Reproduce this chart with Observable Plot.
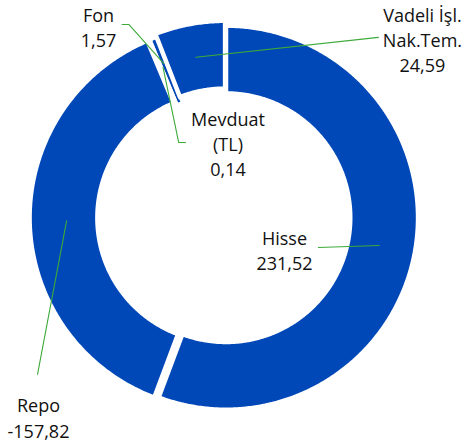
<!DOCTYPE html>
<html>
<head>
<meta charset="utf-8">
<script src="https://cdn.jsdelivr.net/npm/d3@7"></script>
<script src="https://cdn.jsdelivr.net/npm/@observablehq/plot@0.6"></script>
<style>
  html, body { margin: 0; padding: 0; background: #fff; }
  #chart svg { display: block; }
</style>
</head>
<body>
<div id="chart"></div>
<script>
// ---- data ----
const categories = ["Hisse", "Repo", "Mevduat (TL)", "Fon", "Vadeli İşl. Nak.Tem."];
const values = [231.52, -157.82, 0.14, 1.57, 24.59];
const labelNames = ["Hisse", "Repo", "Mevduat\n(TL)", "Fon", "Vadeli İşl.\nNak.Tem."];

// ---- layout (chart units: 1 = outer radius) ----
const W = 462, H = 447;
const pxPerUnit = 189.8;
const cx = 225.5, cy = 217.2;          // ring centre in pixels
const innerRatio = 0.6665;
const gapPx = 4.5;                      // white border between slices
const thinBorder = {"Fon": 1, "Mevduat (TL)": 1};
const explode = {"Repo": 0.023, "Vadeli İşl. Nak.Tem.": 0.026};
// leader start radius, intermediate/end points, label centre
const labelLayout = {
  "Hisse":                {r: 0.82,  path: [[0.487, -0.157]],                    tx: 0.308,  ty: -0.170},
  "Repo":                 {r: 0.817, path: [[-0.993, -0.825]],                   tx: -0.988, ty: -1.050},
  "Mevduat (TL)":         {r: 0.859, path: [[-0.249, 0.396], [-0.213, 0.396]],   tx: 0.0105, ty: 0.394},
  "Fon":                  {r: 0.875, path: [[-0.512, 1.018], [-0.547, 1.018]],   tx: -0.672, ty: 1.007},
  "Vadeli İşl. Nak.Tem.": {r: 0.834, path: [[0.803, 0.950]],                     tx: 1.035,  ty: 0.944}
};

const blue = "#0047B8";
const green = "#3DAA3A";

const rows = categories.map((c, i) => ({name: c, value: values[i], label: labelNames[i]}));
const arcs = d3.pie().sort(null).value(d => Math.abs(d.value))(rows);

const pad = (gapPx / 2) / pxPerUnit;
const rOut = 1 + pad, rIn = innerRatio - pad;

const poly = [];
for (const a of arcs) {
  const name = a.data.name;
  const sw = thinBorder[name] ?? gapPx;
  const mid = (a.startAngle + a.endAngle) / 2;
  const e = explode[name] || 0;
  const ox = e * Math.sin(mid), oy = e * Math.cos(mid);
  const n = Math.max(2, Math.ceil((a.endAngle - a.startAngle) / (Math.PI / 360)));
  for (let k = 0; k <= n; k++) {
    const t = a.startAngle + (a.endAngle - a.startAngle) * k / n;
    poly.push({name, sw, x: ox + rOut * Math.sin(t), y: oy + rOut * Math.cos(t)});
  }
  for (let k = n; k >= 0; k--) {
    const t = a.startAngle + (a.endAngle - a.startAngle) * k / n;
    poly.push({name, sw, x: ox + rIn * Math.sin(t), y: oy + rIn * Math.cos(t)});
  }
}

const leaders = [];
const labels = [];
for (const a of arcs) {
  const name = a.data.name;
  const L = labelLayout[name];
  const mid = (a.startAngle + a.endAngle) / 2;
  const r = L.r + (explode[name] || 0);
  leaders.push({name, x: r * Math.sin(mid), y: r * Math.cos(mid)});
  for (const p of L.path) leaders.push({name, x: p[0], y: p[1]});
  labels.push({
    x: L.tx, y: L.ty,
    text: a.data.label + "\n" + a.data.value.toFixed(2).replace(".", ",")
  });
}

const chart = Plot.plot({
  width: W,
  height: H,
  margin: 0,
  style: {background: "#fff"},
  x: {domain: [-cx / pxPerUnit, (W - cx) / pxPerUnit], axis: null},
  y: {domain: [-(H - cy) / pxPerUnit, cy / pxPerUnit], axis: null},
  marks: [
    Plot.line(poly, {x: "x", y: "y", z: "name", fill: blue, stroke: "white", strokeWidth: "sw", curve: "linear-closed"}),
    Plot.line(leaders, {x: "x", y: "y", z: "name", stroke: green, strokeWidth: 1.1}),
    Plot.text(labels, {
      x: "x", y: "y", text: "text",
      fontFamily: "Open Sans", fontSize: 18, lineHeight: 1.39,
      textAnchor: "middle", lineAnchor: "middle", fill: "#111"
    })
  ]
});
document.getElementById("chart").append(chart);
</script>
</body>
</html>
